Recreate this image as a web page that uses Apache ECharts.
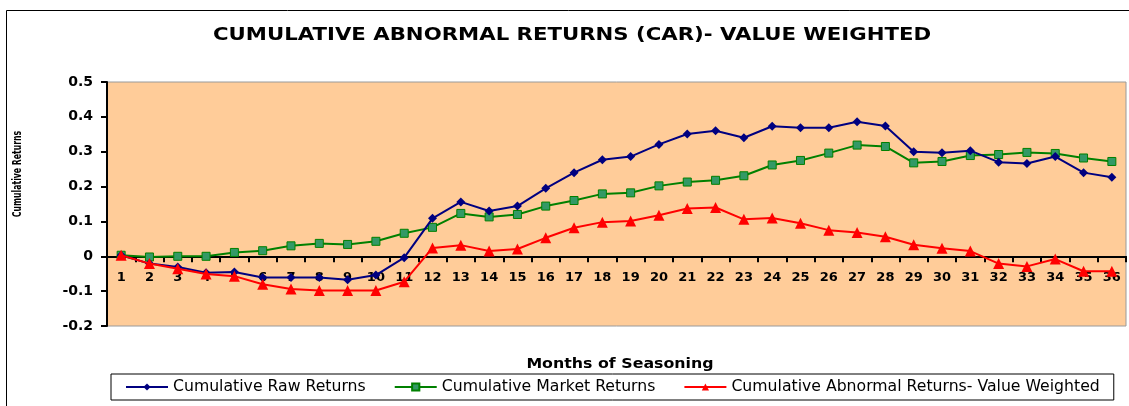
<!DOCTYPE html>
<html>
<head>
<meta charset="utf-8">
<script src="https://cdn.jsdelivr.net/npm/echarts@6/dist/echarts.min.js"></script>
<style>
html,body{margin:0;padding:0;background:#fff;}
#chart{width:1129px;height:406px;}
</style>
</head>
<body>
<div id="chart"></div>
<script>
const months = ['1','2','3','4','5','6','7','8','9','10','11','12','13','14','15','16','17','18','19','20','21','22','23','24','25','26','27','28','29','30','31','32','33','34','35','36'];
const rawReturns = [0.003,-0.021,-0.031,-0.047,-0.045,-0.061,-0.061,-0.061,-0.067,-0.054,-0.004,0.109,0.156,0.130,0.144,0.195,0.240,0.277,0.286,0.321,0.351,0.360,0.340,0.373,0.369,0.369,0.386,0.374,0.300,0.297,0.303,0.270,0.266,0.286,0.240,0.227];
const marketReturns = [0.003,-0.002,0.000,0.000,0.011,0.016,0.030,0.037,0.034,0.043,0.066,0.083,0.123,0.113,0.120,0.144,0.160,0.179,0.182,0.202,0.213,0.218,0.231,0.262,0.275,0.296,0.319,0.315,0.268,0.272,0.289,0.292,0.298,0.295,0.282,0.272];
const abnormalReturns = [0.003,-0.021,-0.036,-0.051,-0.057,-0.080,-0.094,-0.098,-0.098,-0.098,-0.073,0.024,0.032,0.015,0.021,0.053,0.082,0.098,0.101,0.118,0.137,0.140,0.106,0.110,0.095,0.075,0.068,0.056,0.033,0.023,0.015,-0.021,-0.029,-0.008,-0.043,-0.043];
const seriesNames = ['Cumulative Raw Returns','Cumulative Market Returns','Cumulative Abnormal Returns- Value Weighted'];
const titleText = 'CUMULATIVE ABNORMAL RETURNS (CAR)- VALUE WEIGHTED';
const xName = 'Months of Seasoning';
const yName = 'Cumulative Returns';

const chart = echarts.init(document.getElementById('chart'), null, {renderer:'canvas'});
const F = 'DejaVu Sans';
chart.setOption({
  animation:false,
  backgroundColor:'#ffffff',
  graphic:[
    {type:'rect', shape:{x:6.5,y:10.5,width:1130,height:420}, style:{fill:null, stroke:'#000', lineWidth:1}, z:-10},
    {type:'text', x:572, y:35, scaleX:1.18,
      style:{text:titleText, align:'center', verticalAlign:'middle', fontFamily:F, fontWeight:'bold', fontSize:18, fill:'#000'}},
    {type:'text', x:18, y:174, rotation:Math.PI/2, scaleX:0.62,
      style:{text:yName, align:'center', verticalAlign:'middle', fontFamily:F, fontWeight:'bold', fontSize:12.5, fill:'#000'}},
    {type:'text', x:620, y:364, scaleX:1.13,
      style:{text:xName, align:'center', verticalAlign:'middle', fontFamily:F, fontWeight:'bold', fontSize:14, fill:'#000'}}
  ],
  legend:{
    left:111, top:374, orient:'horizontal',
    padding:[5,14,5,14], itemGap:28, itemWidth:42, itemHeight:9,
    borderColor:'#000', borderWidth:1, backgroundColor:'#fff',
    textStyle:{fontFamily:F, fontSize:15.7, color:'#000'},
    data:seriesNames
  },
  grid:{left:107, right:3, top:82, bottom:80, show:true, backgroundColor:'#FFCC99', borderColor:'#9a9a9a', borderWidth:1},
  xAxis:[{
    type:'category', data:months, boundaryGap:true,
    axisLine:{onZero:true, lineStyle:{color:'#000', width:2}},
    axisTick:{show:true, length:6, lineStyle:{color:'#000', width:2}},
    axisLabel:{show:false},
    splitLine:{show:false}
  },{
    type:'category', data:months, boundaryGap:true, position:'bottom', offset:-70,
    axisLine:{show:false, onZero:false},
    axisTick:{show:false},
    axisLabel:{margin:15, fontFamily:F, fontWeight:'bold', fontSize:13, color:'#000', interval:0},
    splitLine:{show:false}
  }],
  yAxis:{
    type:'value', min:-0.2, max:0.5, interval:0.1,
    axisLine:{show:true, lineStyle:{color:'#000', width:2}},
    axisTick:{show:true, length:6, lineStyle:{color:'#000', width:2}},
    axisLabel:{margin:14, fontFamily:F, fontWeight:'bold', fontSize:14, color:'#000',
      formatter:v=>String(Math.round(v*10)/10)},
    splitLine:{show:false}
  },
  series:[
    {name:seriesNames[0], type:'line', data:rawReturns, symbol:'diamond', symbolSize:9,
      lineStyle:{color:'#000080', width:2}, itemStyle:{color:'#000080'}, z:3},
    {name:seriesNames[1], type:'line', data:marketReturns, symbol:'rect', symbolSize:8,
      lineStyle:{color:'#008000', width:2}, itemStyle:{color:'#339966', borderColor:'#008000', borderWidth:1}, z:2},
    {name:seriesNames[2], type:'line', data:abnormalReturns, symbol:'triangle', symbolSize:11,
      lineStyle:{color:'#FF0000', width:2}, itemStyle:{color:'#FF0000'}, z:4}
  ]
});
</script>
</body>
</html>
